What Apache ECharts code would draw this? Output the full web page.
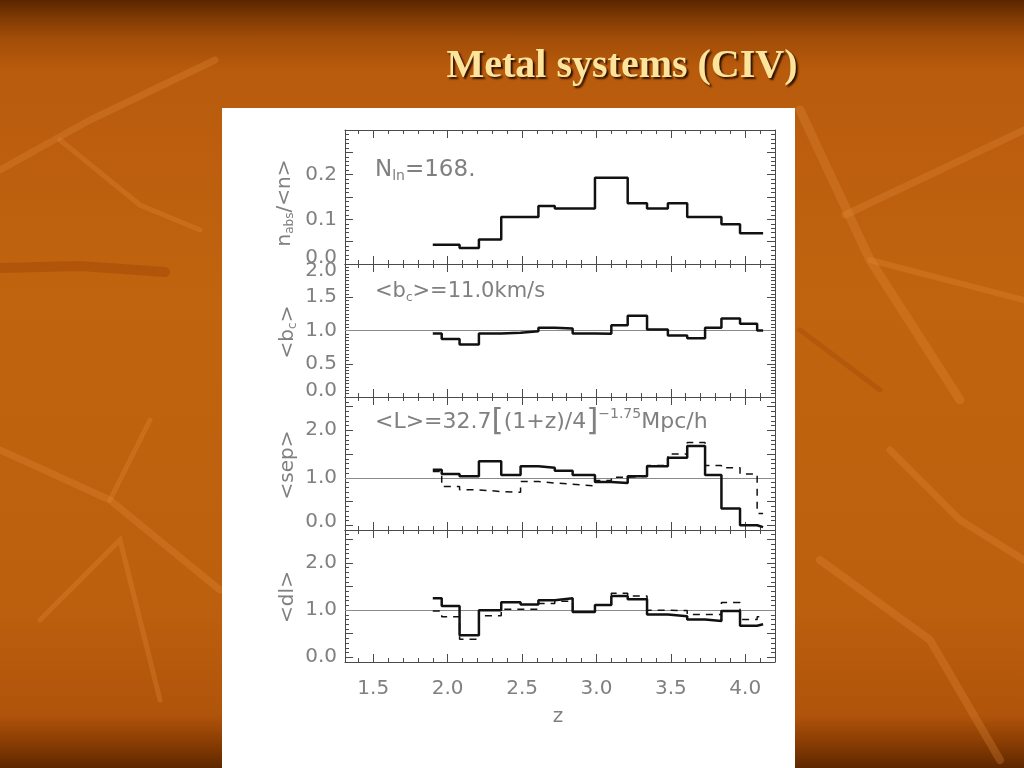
<!DOCTYPE html>
<html><head><meta charset="utf-8">
<script src="https://cdn.jsdelivr.net/npm/echarts@6/dist/echarts.min.js"></script>
<style>
html,body{margin:0;padding:0;width:1024px;height:768px;overflow:hidden;}
body{background:linear-gradient(to bottom,#5a2500 0px,#7c3803 16px,#a24d08 38px,#b95b0d 70px,#c1640f 300px,#bd600e 600px,#b0540b 715px,#8a3d03 742px,#5e2800 768px);}
#c{width:1024px;height:768px;}
</style></head><body><div id="c"></div><script>
// ---- data ----
const binEdges = [1.90, 1.96, 2.08, 2.21, 2.36, 2.49, 2.61, 2.72, 2.84, 2.99, 3.10, 3.21, 3.34, 3.48, 3.61, 3.73, 3.84, 3.965, 4.08, 4.12];
const nAbsRatio = [0.043, 0.043, 0.036, 0.055, 0.105, 0.105, 0.130, 0.124, 0.124, 0.193, 0.193, 0.136, 0.124, 0.136, 0.105, 0.105, 0.089, 0.069, 0.069];
const bcRatio   = [0.955, 0.874, 0.788, 0.955, 0.965, 0.99, 1.04, 1.03, 0.955, 0.95, 1.08, 1.22, 1.015, 0.924, 0.884, 1.04, 1.18, 1.10, 1.0];
const sepSolid  = [1.17, 1.08, 1.03, 1.35, 1.06, 1.24, 1.21, 1.15, 1.06, 0.91, 0.89, 1.03, 1.24, 1.42, 1.67, 1.06, 0.355, 0.0, -0.04];
const sepDashed = [1.13, 0.815, 0.745, 0.71, 0.695, 0.92, 0.89, 0.865, 0.83, 0.94, 1.01, 1.03, 1.26, 1.50, 1.74, 1.26, 1.21, 1.08, 0.25];
const dlSolid   = [1.25, 1.09, 0.47, 1.00, 1.17, 1.12, 1.21, 1.25, 0.96, 1.11, 1.30, 1.23, 0.91, 0.87, 0.80, 0.77, 0.98, 0.67, 0.70];
const dlDashed  = [0.98, 0.86, 0.38, 0.88, 1.02, 1.02, 1.14, 1.19, 0.96, 1.11, 1.36, 1.30, 1.00, 0.99, 0.91, 0.91, 1.16, 0.80, 0.86];
const xTickLabels    = [1.5, 2.0, 2.5, 3.0, 3.5, 4.0];
const nAbsTickLabels = [0.0, 0.1, 0.2];
const bcTickLabels   = [0.0, 0.5, 1.0, 1.5, 2.0];
const sepTickLabels  = [0.0, 1.0, 2.0];
const dlTickLabels   = [0.0, 1.0, 2.0];
const referenceLevel = 1.0;

// ---- helpers ----
function seq(a, b, step){ const out=[]; const n=Math.round((b-a)/step); for(let i=0;i<=n;i++) out.push(Math.round((a+i*step)*1000)/1000); return out; }
function steps(vals){ return binEdges.map((e,i)=>[e, vals[Math.min(i, vals.length-1)]]); }

const AX='#4a4a4a', TXT='#808080', FONT='"DejaVu Sans", sans-serif';
const X_MIN=1.31, X_MAX=4.2, LEFT=345, WIDTH=430;
const xMinor = seq(1.4, 4.2, 0.1);
const panels = [
  {top:130, height:134, min:0, max:0.3, major:seq(0,0.3,0.05), minor:seq(0,0.3,0.01), labels:nAbsTickLabels, shift:{'0.0':'u'}},
  {top:264, height:133, min:0, max:2, major:seq(0,2,0.5), minor:seq(0,2,0.05), labels:bcTickLabels, shift:{'0.0':'u','2.0':'d'}},
  {top:397, height:133, min:-0.1, max:2.7, major:seq(0,2.5,0.5), minor:seq(-0.1,2.7,0.1), labels:sepTickLabels, shift:{'0.0':'v'}},
  {top:530, height:132, min:-0.1, max:2.7, major:seq(0,2.5,0.5), minor:seq(-0.1,2.7,0.1), labels:dlTickLabels, shift:{}}
];

const grids=[], xAxes=[], yAxes=[];
panels.forEach((p,g)=>{
  grids.push({left:LEFT, width:WIDTH, top:p.top, height:p.height, containLabel:false});
  const xa=(pos,ticks,len,line,labels)=>({type:'value',gridIndex:g,position:pos,min:X_MIN,max:X_MAX,
    axisLine:{show:line,onZero:false,lineStyle:{color:AX,width:1}},
    axisTick:{show:true,inside:true,length:len,customValues:ticks,lineStyle:{color:AX,width:1}},
    axisLabel:{show:!!labels,customValues:labels||ticks,margin:17,color:TXT,fontSize:20,fontFamily:FONT,formatter:v=>v.toFixed(1)},
    splitLine:{show:false}});
  const isLast = g===panels.length-1;
  xAxes.push(xa('bottom',xTickLabels,8,true,isLast?xTickLabels:null));
  xAxes.push(xa('bottom',xMinor,4,false,null));
  xAxes.push(xa('top',xTickLabels,8,true,null));
  xAxes.push(xa('top',xMinor,4,false,null));
  const ya=(pos,ticks,len,line,labels)=>({type:'value',gridIndex:g,position:pos,min:p.min,max:p.max,
    axisLine:{show:line,onZero:false,lineStyle:{color:AX,width:1}},
    axisTick:{show:true,inside:true,length:len,customValues:ticks,lineStyle:{color:AX,width:1}},
    axisLabel:{show:!!labels,customValues:labels||ticks,margin:8,color:TXT,fontSize:20,fontFamily:FONT,
      formatter:v=>{const s=v.toFixed(1); const k=p.shift[s]; return k?('{'+k+'|'+s+'}'):s;},
      rich:{u:{padding:[0,0,12,0]},d:{padding:[14,0,0,0]},v:{padding:[0,0,6,0]}}},
    splitLine:{show:false}});
  yAxes.push(ya('left',p.major,8,true,p.labels));
  yAxes.push(ya('left',p.minor,4,false,null));
  yAxes.push(ya('right',p.major,8,true,null));
  yAxes.push(ya('right',p.minor,4,false,null));
});

const refLine={silent:true,symbol:'none',label:{show:false},lineStyle:{color:'#8a8a8a',width:1,type:'solid'},data:[{yAxis:referenceLevel}]};
const solid={color:'#111',width:2.5};
const dashed={color:'#111',width:1.5,type:[7,6]};
function s(g,vals,ls,ml){ const o={type:'line',xAxisIndex:4*g,yAxisIndex:4*g,step:'end',symbol:'none',data:steps(vals),lineStyle:ls,z:5}; if(ml) o.markLine=ml; return o; }
const series=[
  s(0,nAbsRatio,solid),
  s(1,bcRatio,solid,refLine),
  s(2,sepDashed,dashed,refLine),
  s(2,sepSolid,solid),
  s(3,dlDashed,dashed,refLine),
  s(3,dlSolid,solid)
];

const tk=(size,extra)=>Object.assign({fontSize:size,fontFamily:FONT,fill:TXT},extra||{});
const subR={a:tk(20),s:tk(12,{padding:[10,0,0,0]})};
function rot(text,x,y){return {type:'text',x:x,y:y,rotation:Math.PI/2,z:10,style:{text:text,rich:subR,align:'center',verticalAlign:'middle',fill:TXT,font:'20px '+FONT}};}
const deco=(pts,w,c)=>({type:'polyline',z:-20,shape:{points:pts},style:{stroke:c,lineWidth:w,fill:null,lineCap:'round'}});
const L='rgba(226,140,58,0.30)', D='rgba(120,45,0,0.18)';
const graphic=[
  deco([[0,170],[90,120],[215,60]],7,L), deco([[60,140],[140,205],[200,230]],5,L),
  deco([[0,268],[80,266],[165,272]],10,'rgba(150,60,5,0.35)'),
  deco([[0,450],[110,500],[220,590]],7,L), deco([[110,500],[150,420]],5,L), deco([[40,620],[120,540],[160,700]],5,L),
  deco([[800,110],[870,260],[960,400]],9,L), deco([[845,215],[940,170],[1024,130]],7,L),
  deco([[870,260],[1024,300]],6,L), deco([[890,450],[960,520],[1024,560]],7,L),
  deco([[820,560],[930,640],[1000,760]],8,L), deco([[800,330],[880,390]],5,D),
  {type:'rect',z:-10,shape:{x:222,y:108,width:573,height:660},style:{fill:'#ffffff'}},
  {type:'text',x:622,y:67,z:10,style:{text:'Metal systems (CIV)',font:'bold 40px "Liberation Serif", "Times New Roman", serif',fill:'#fde49a',align:'center',verticalAlign:'middle',textShadowColor:'#2a1000',textShadowOffsetX:2,textShadowOffsetY:2,textShadowBlur:2}},
  {type:'text',x:375,y:170,z:10,style:{text:'{a|N}{s|ln}{a|=168.}',fill:TXT,rich:{a:tk(23),s:tk(14,{padding:[12,0,0,0]})},verticalAlign:'middle'}},
  {type:'text',x:375,y:292,z:10,style:{text:'{a|<b}{s|c}{a|>=11.0km/s}',fill:TXT,rich:{a:tk(21),s:tk(12,{padding:[12,0,0,0]})},verticalAlign:'middle'}},
  {type:'text',x:375,y:422,z:10,style:{text:'{a|<L>=32.7}{b|[}{a|(1+z)/4}{b|]}{p|−1.75}{a|Mpc/h}',fill:TXT,rich:{a:tk(22),b:tk(31),p:tk(14,{padding:[0,0,16,0]})},verticalAlign:'middle'}},
  rot('{a|n}{s|abs}{a|/<n>}',285,203),
  rot('{a|<b}{s|c}{a|>}',288,332),
  rot('{a|<sep>}',288,465),
  rot('{a|<dl>}',288,597),
  {type:'text',x:558,y:717,z:10,style:{text:'z',font:'20px '+FONT,fill:TXT,align:'center',verticalAlign:'middle'}}
];

const chart=echarts.init(document.getElementById('c'),null,{renderer:'canvas'});
chart.setOption({backgroundColor:'transparent',animation:false,grid:grids,xAxis:xAxes,yAxis:yAxes,series:series,graphic:graphic});
</script></body></html>
